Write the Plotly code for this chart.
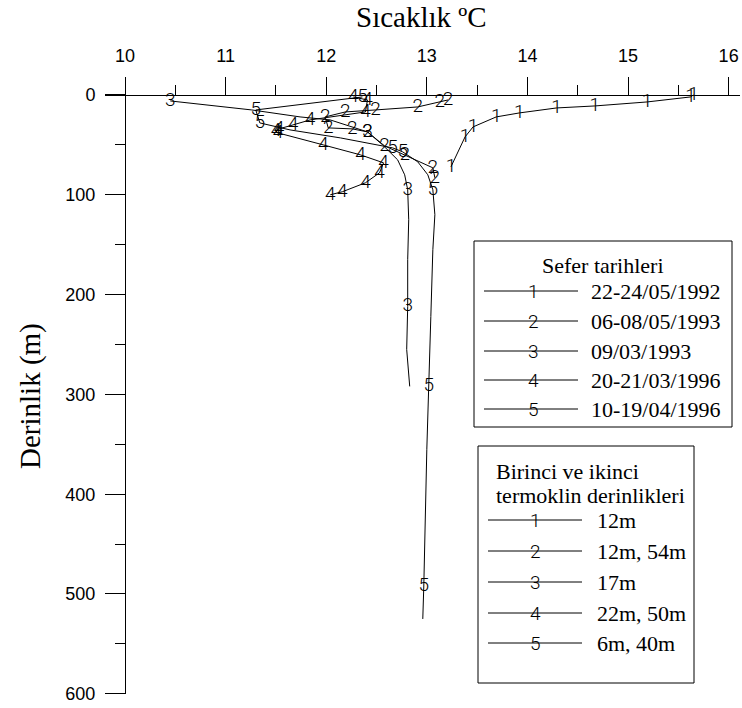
import plotly.graph_objects as go

# ---------------- data ----------------
x_ticks = [10, 11, 12, 13, 14, 15, 16]
y_ticks = [0, 100, 200, 300, 400, 500, 600]

series_ids = ["1", "2", "3", "4", "5"]
series_dates = ["22-24/05/1992", "06-08/05/1993", "09/03/1993", "20-21/03/1996", "10-19/04/1996"]
thermo_depths = ["12m", "12m, 54m", "17m", "22m, 50m", "6m, 40m"]

# temperature (°C), depth (m), glyph shown (1/0)
s1_temp = [15.65, 15.62, 15.19, 14.67, 14.29, 13.92, 13.69, 13.46, 13.38, 13.24]
s1_depth = [0, 2, 7, 11, 13, 18, 22, 32, 42, 72]
s1_mark = [1, 1, 1, 1, 1, 1, 1, 1, 1, 1]

s2_temp = [13.21, 13.13, 12.91, 12.49, 12.19, 11.99, 12.02, 12.26, 12.41, 12.58, 12.78, 13.06, 13.08]
s2_depth = [5, 7, 12, 15, 17, 22, 33, 34, 37, 51, 60, 73, 83]
s2_mark = [1, 1, 1, 1, 1, 1, 1, 1, 1, 1, 1, 1, 1]

s3_temp = [10.45, 11.26, 11.74, 12.04, 12.41, 12.56, 12.71, 12.78, 12.81, 12.82, 12.81, 12.81, 12.80, 12.83]
s3_depth = [6, 15, 22, 25, 37, 50, 65, 80, 95, 125, 165, 212, 255, 292]
s3_mark = [1, 0, 0, 0, 1, 0, 0, 0, 1, 0, 0, 1, 0, 0]

s4_temp = [12.27, 12.41, 12.39, 11.84, 11.67, 11.53, 11.50, 11.52, 11.97, 12.34, 12.57, 12.53, 12.39, 12.16, 12.04]
s4_depth = [2, 5, 17, 25, 30, 34, 36, 38, 50, 60, 68, 78, 88, 97, 100]
s4_mark = [1, 1, 1, 1, 1, 1, 1, 1, 1, 1, 1, 1, 1, 1, 1]

s5_temp = [12.36, 11.30, 11.34, 11.64, 12.14, 12.66, 12.76, 12.91, 13.01, 13.06, 13.08, 13.06, 13.04, 13.02, 13.00, 12.97, 12.96]
s5_depth = [2, 15, 28, 35, 43, 53, 57, 67, 80, 95, 120, 155, 222, 292, 355, 492, 525]
s5_mark = [1, 1, 1, 0, 0, 1, 1, 0, 0, 1, 0, 0, 0, 1, 0, 1, 0]

temps = [s1_temp, s2_temp, s3_temp, s4_temp, s5_temp]
depths = [s1_depth, s2_depth, s3_depth, s4_depth, s5_depth]
marks = [s1_mark, s2_mark, s3_mark, s4_mark, s5_mark]

# ---------------- style ----------------
W, H = 742, 708
ML, MR, MT, MB = 105, 2, 77, 14
X_RANGE = [9.8012, 16.113]
Y_RANGE = [600.2, -18.0]
GLYPH_FONT = dict(family="Roboto", size=19, color="#000000", weight=300)
SERIF = "Liberation Serif"
SANS = "Liberation Sans"
LEG_SIZE = 22

def PX(px):
    return (px - ML) / (W - ML - MR)

def PY(py):
    return (H - MB - py) / (H - MT - MB)

fig = go.Figure()
for sid, t, d, m in zip(series_ids, temps, depths, marks):
    fig.add_trace(go.Scatter(
        x=t, y=d, mode="lines+text",
        text=[sid if k else "" for k in m],
        textposition="middle center",
        textfont=GLYPH_FONT,
        line=dict(color="black", width=1),
        showlegend=False, hoverinfo="skip", cliponaxis=False,
    ))

x_pos = (Y_RANGE[0] - 0) / (Y_RANGE[0] - Y_RANGE[1])
y_pos = (10 - X_RANGE[0]) / (X_RANGE[1] - X_RANGE[0])

fig.update_layout(
    width=W, height=H,
    margin=dict(l=ML, r=MR, t=MT, b=MB, autoexpand=False),
    plot_bgcolor="white", paper_bgcolor="white",
    showlegend=False,
    xaxis=dict(
        range=X_RANGE, side="top", anchor="free", position=x_pos, automargin=False,
        tickvals=x_ticks, ticks="outside", ticklen=18, tickwidth=1, tickcolor="black",
        showline=True, linecolor="black", linewidth=1,
        showgrid=False, zeroline=False,
        tickfont=dict(family=SANS, size=18, color="black"),
        ticklabelstandoff=8,
        minor=dict(tick0=10, dtick=0.5, ticklen=10, ticks="outside", tickcolor="black", tickwidth=1, showgrid=False),
    ),
    yaxis=dict(
        range=Y_RANGE, anchor="free", position=y_pos, automargin=False,
        tickvals=y_ticks, ticks="outside", ticklen=20, tickwidth=1, tickcolor="black",
        showline=True, linecolor="black", linewidth=1,
        showgrid=False, zeroline=False,
        tickfont=dict(family=SANS, size=18, color="black"),
        ticklabelstandoff=6,
        minor=dict(tick0=0, dtick=50, ticklen=10, ticks="outside", tickcolor="black", tickwidth=1, showgrid=False),
    ),
)

ann = []
shapes = []
# axis titles
ann.append(dict(text="Sıcaklık ºC", x=PX(421), y=PY(17), xref="paper", yref="paper",
                showarrow=False, font=dict(family=SERIF, size=29, color="black"),
                xanchor="center", yanchor="middle"))
ann.append(dict(text="Derinlik (m)", x=PX(30), y=PY(396), xref="paper", yref="paper",
                showarrow=False, textangle=-90, font=dict(family=SERIF, size=29, color="black"),
                xanchor="center", yanchor="middle"))

# legend 1 box
shapes.append(dict(type="rect", xref="paper", yref="paper", x0=PX(474), x1=PX(732), y0=PY(427), y1=PY(241),
                   line=dict(color="black", width=1), fillcolor="white", layer="above"))
ann.append(dict(text="Sefer tarihleri", x=PX(603), y=PY(265), xref="paper", yref="paper", showarrow=False,
                font=dict(family=SERIF, size=LEG_SIZE, color="black"), xanchor="center", yanchor="middle"))
rows1 = [291, 321, 351, 380, 409]
for sid, lab, ry in zip(series_ids, series_dates, rows1):
    shapes.append(dict(type="line", xref="paper", yref="paper", x0=PX(484), x1=PX(578), y0=PY(ry), y1=PY(ry),
                       line=dict(color="black", width=1), layer="above"))
    ann.append(dict(text=sid, x=PX(533), y=PY(ry), xref="paper", yref="paper", showarrow=False,
                    font=GLYPH_FONT, xanchor="center", yanchor="middle"))
    ann.append(dict(text=lab, x=PX(589), y=PY(ry), xref="paper", yref="paper", showarrow=False,
                    font=dict(family=SERIF, size=LEG_SIZE, color="black"), xanchor="left", yanchor="middle"))

# legend 2 box
shapes.append(dict(type="rect", xref="paper", yref="paper", x0=PX(478), x1=PX(694), y0=PY(683), y1=PY(446),
                   line=dict(color="black", width=1), fillcolor="white", layer="above"))
ann.append(dict(text="Birinci ve ikinci", x=PX(494), y=PY(472), xref="paper", yref="paper", showarrow=False,
                font=dict(family=SERIF, size=LEG_SIZE, color="black"), xanchor="left", yanchor="middle"))
ann.append(dict(text="termoklin derinlikleri", x=PX(494), y=PY(495), xref="paper", yref="paper", showarrow=False,
                font=dict(family=SERIF, size=LEG_SIZE, color="black"), xanchor="left", yanchor="middle"))
rows2 = [520, 551, 582, 613, 643]
for sid, lab, ry in zip(series_ids, thermo_depths, rows2):
    shapes.append(dict(type="line", xref="paper", yref="paper", x0=PX(488), x1=PX(582), y0=PY(ry), y1=PY(ry),
                       line=dict(color="black", width=1), layer="above"))
    ann.append(dict(text=sid, x=PX(535), y=PY(ry), xref="paper", yref="paper", showarrow=False,
                    font=GLYPH_FONT, xanchor="center", yanchor="middle"))
    ann.append(dict(text=lab, x=PX(595), y=PY(ry), xref="paper", yref="paper", showarrow=False,
                    font=dict(family=SERIF, size=LEG_SIZE, color="black"), xanchor="left", yanchor="middle"))

fig.update_layout(annotations=ann, shapes=shapes)
fig.write_html("out.html", config={"displayModeBar": False},
               post_script="document.body.style.margin='0px';")
